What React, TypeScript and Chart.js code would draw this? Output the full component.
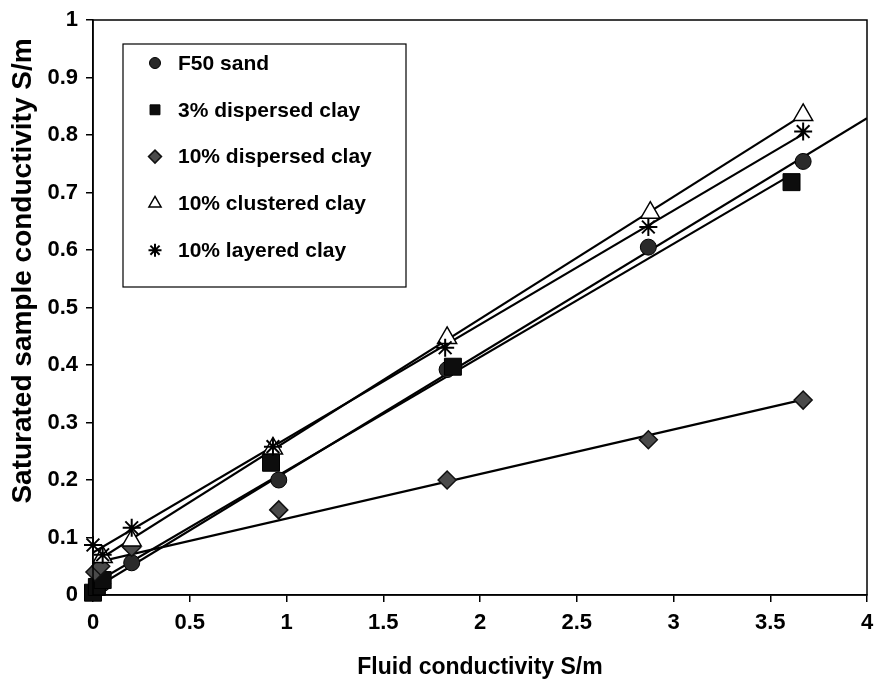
import React, { useEffect, useRef } from 'react';
import { Chart, registerables } from 'chart.js';
import { drawPoint } from 'chart.js/helpers';

Chart.register(...registerables);

// ---- data ----
const seriesNames = ['F50 sand', '3% dispersed clay', '10% dispersed clay', '10% clustered clay', '10% layered clay'];

const f50X = [0, 0.05, 0.2, 0.96, 1.83, 2.87, 3.67];
const f50Y = [0.005, 0.02, 0.056, 0.2, 0.392, 0.605, 0.754];

const disp3X = [0, 0.02, 0.05, 0.92, 1.86, 3.61];
const disp3Y = [0.004, 0.014, 0.026, 0.23, 0.397, 0.718];

const disp10X = [0.01, 0.04, 0.2, 0.96, 1.83, 2.87, 3.67];
const disp10Y = [0.04, 0.05, 0.083, 0.148, 0.2, 0.27, 0.339];

const clus10X = [0.05, 0.2, 0.93, 1.83, 2.88, 3.67];
const clus10Y = [0.066, 0.095, 0.255, 0.447, 0.665, 0.835];

const lay10X = [0, 0.05, 0.2, 0.93, 1.82, 2.87, 3.67];
const lay10Y = [0.087, 0.07, 0.117, 0.258, 0.43, 0.64, 0.806];

// trendline forward extension (x where the line ends), null = last data point
const trendEndX = [4, null, null, null, null];

const xTickValues = [0, 0.5, 1, 1.5, 2, 2.5, 3, 3.5, 4];
const xTickLabels = ['0', '0.5', '1', '1.5', '2', '2.5', '3', '3.5', '4'];
const yTickValues = [0, 0.1, 0.2, 0.3, 0.4, 0.5, 0.6, 0.7, 0.8, 0.9, 1];
const yTickLabels = ['0', '0.1', '0.2', '0.3', '0.4', '0.5', '0.6', '0.7', '0.8', '0.9', '1'];

const xTitle = 'Fluid conductivity S/m';
const yTitle = 'Saturated sample conductivity S/m';

// ---- styles ----
const FONT = "'Liberation Sans', Arial, Helvetica, sans-serif";
const seriesX = [f50X, disp3X, disp10X, clus10X, lay10X];
const seriesY = [f50Y, disp3Y, disp10Y, clus10Y, lay10Y];
const markerStyles = [
  { pointStyle: 'circle', radius: 8, legendRadius: 5.5, fill: '#2a2a2a', stroke: '#000', width: 1 },
  { pointStyle: 'rect', radius: 12, legendRadius: 7, fill: '#0d0d0d', stroke: '#000', width: 1 },
  { pointStyle: 'rectRot', radius: 9, legendRadius: 6.5, fill: '#4a4a4a', stroke: '#111', width: 1.5 },
  { pointStyle: 'triangle', radius: 11, legendRadius: 7, fill: '#ffffff', stroke: '#000', width: 1.5 },
  { pointStyle: 'star', radius: 9, legendRadius: 6.5, fill: '#000', stroke: '#000', width: 2 },
];

function regression(xs: number[], ys: number[]) {
  const n = xs.length;
  const mx = xs.reduce((a, b) => a + b, 0) / n;
  const my = ys.reduce((a, b) => a + b, 0) / n;
  let sxy = 0;
  let sxx = 0;
  for (let i = 0; i < n; i++) {
    sxy += (xs[i] - mx) * (ys[i] - my);
    sxx += (xs[i] - mx) * (xs[i] - mx);
  }
  const slope = sxy / sxx;
  return { slope, intercept: my - slope * mx };
}

const frameAndLegend = {
  id: 'frameAndLegend',
  afterDraw(chart: any) {
    const { ctx, chartArea } = chart;
    ctx.save();
    ctx.strokeStyle = '#000';
    ctx.lineWidth = 1.5;
    ctx.strokeRect(chartArea.left, chartArea.top, chartArea.right - chartArea.left, chartArea.bottom - chartArea.top);

    // y axis title (placed as in the reference, slightly above the axis centre)
    ctx.save();
    ctx.translate(23, chartArea.top + 251);
    ctx.rotate(-Math.PI / 2);
    ctx.font = `bold 28px ${FONT}`;
    ctx.fillStyle = '#000';
    ctx.textAlign = 'center';
    ctx.textBaseline = 'middle';
    ctx.fillText(yTitle, 0, 0);
    ctx.restore();

    // legend box
    const bx = chartArea.left + 30;
    const by = chartArea.top + 24;
    const bw = 283;
    const bh = 243;
    ctx.fillStyle = '#fff';
    ctx.fillRect(bx, by, bw, bh);
    ctx.lineWidth = 1.2;
    ctx.strokeStyle = '#000';
    ctx.strokeRect(bx, by, bw, bh);
    ctx.font = `bold 21px ${FONT}`;
    ctx.textBaseline = 'middle';
    ctx.textAlign = 'left';
    seriesNames.forEach((name, i) => {
      const m = markerStyles[i];
      const cy = by + 19 + i * 46.8;
      ctx.fillStyle = m.fill;
      ctx.strokeStyle = m.stroke;
      ctx.lineWidth = m.width;
      drawPoint(ctx, { pointStyle: m.pointStyle, radius: m.legendRadius, rotation: 0, borderWidth: m.width }, bx + 32, cy);
      ctx.fillStyle = '#000';
      ctx.fillText(name, bx + 55, cy + 1);
    });
    ctx.restore();
  },
};

const noPadding = () => ({ left: 0, top: 0, right: 0, bottom: 0 });

export default function App() {
  const ref = useRef<HTMLCanvasElement | null>(null);
  useEffect(() => {
    if (!ref.current) return;
    const datasets: any[] = [];
    seriesNames.forEach((name, i) => {
      const m = markerStyles[i];
      datasets.push({
        type: 'scatter',
        label: name,
        data: seriesX[i].map((x, j) => ({ x, y: seriesY[i][j] })),
        pointStyle: m.pointStyle,
        pointRadius: m.radius,
        pointBackgroundColor: m.fill,
        pointBorderColor: m.stroke,
        pointBorderWidth: m.width,
        showLine: false,
        clip: false,
        order: 5 - i,
      });
    });
    seriesNames.forEach((name, i) => {
      const xs = seriesX[i];
      const { slope, intercept } = regression(xs, seriesY[i]);
      const x0 = 0;
      const x1 = trendEndX[i] ?? Math.max(...xs);
      datasets.push({
        type: 'line',
        label: name + ' trend',
        data: [
          { x: x0, y: intercept + slope * x0 },
          { x: x1, y: intercept + slope * x1 },
        ],
        borderColor: '#000',
        borderWidth: 2.2,
        pointRadius: 0,
        fill: false,
        tension: 0,
        order: 10,
      });
    });

    const chart = new Chart(ref.current, {
      type: 'scatter',
      data: { datasets },
      plugins: [frameAndLegend],
      options: {
        responsive: false,
        animation: false,
        layout: { autoPadding: false, padding: { top: 20, right: 7, left: 0, bottom: 0 } },
        plugins: { legend: { display: false }, tooltip: { enabled: false } },
        scales: {
          x: {
            type: 'linear',
            min: 0,
            max: 4,
            afterBuildTicks: (s: any) => {
              s.ticks = xTickValues.map((v) => ({ value: v }));
            },
            afterFit: (s: any) => {
              s.height = 91;
              s.paddingLeft = 0;
              s.paddingRight = 0;
              s.getPadding = noPadding;
            },
            ticks: {
              color: '#000',
              font: { family: FONT, size: 22, weight: 'bold' },
              padding: 8,
              maxRotation: 0,
              autoSkip: false,
              callback: (v: any) => xTickLabels[xTickValues.indexOf(Number(v))] ?? '',
            },
            grid: { display: true, drawOnChartArea: false, drawTicks: true, tickLength: 7, color: '#000', lineWidth: 1.5 },
            border: { display: true, color: '#000', width: 1.5 },
            title: {
              display: true,
              text: xTitle,
              color: '#000',
              font: { family: FONT, size: 23, weight: 'bold' },
              padding: { top: 0, bottom: 5 },
            },
          },
          y: {
            type: 'linear',
            min: 0,
            max: 1,
            afterBuildTicks: (s: any) => {
              s.ticks = yTickValues.map((v) => ({ value: v }));
            },
            afterFit: (s: any) => {
              s.width = 93;
              s.paddingTop = 0;
              s.paddingBottom = 0;
              s.getPadding = noPadding;
            },
            ticks: {
              color: '#000',
              font: { family: FONT, size: 22, weight: 'bold' },
              padding: 8,
              autoSkip: false,
              callback: (v: any) => yTickLabels[yTickValues.findIndex((t) => Math.abs(t - Number(v)) < 1e-9)] ?? '',
            },
            grid: { display: true, drawOnChartArea: false, drawTicks: true, tickLength: 7, color: '#000', lineWidth: 1.5 },
            border: { display: true, color: '#000', width: 1.5 },
            title: { display: false },
          },
        },
      } as any,
    });
    return () => chart.destroy();
  }, []);

  return (
    <div style={{ position: 'absolute', left: 0, top: 0, width: 874, height: 686, background: '#fff' }}>
      <canvas ref={ref} width={874} height={686} style={{ width: 874, height: 686, display: 'block' }} />
    </div>
  );
}
